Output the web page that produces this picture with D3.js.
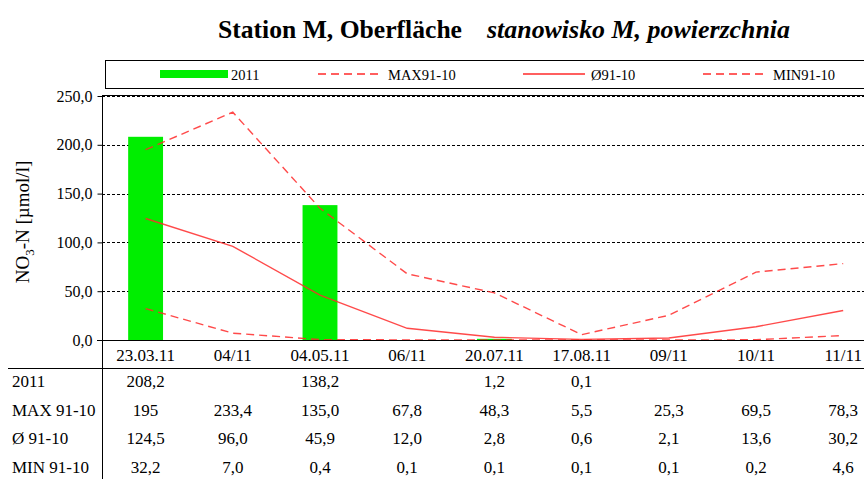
<!DOCTYPE html>
<html>
<head>
<meta charset="utf-8">
<script src="https://cdn.jsdelivr.net/npm/d3@7"></script>
<style>
  body { margin: 0; background: #fff; }
  svg text { font-family: 'Liberation Serif', 'Times New Roman', serif; fill: #000; }
</style>
</head>
<body>
<svg id="chart" width="864" height="479"></svg>
<script>
const categories = ['23.03.11', '04/11', '04.05.11', '06/11', '20.07.11', '17.08.11', '09/11', '10/11', '11/11'];
const row2011 = ['208,2', '', '138,2', '', '1,2', '0,1', '', '', ''];
const rowMax = ['195', '233,4', '135,0', '67,8', '48,3', '5,5', '25,3', '69,5', '78,3'];
const rowAvg = ['124,5', '96,0', '45,9', '12,0', '2,8', '0,6', '2,1', '13,6', '30,2'];
const rowMin = ['32,2', '7,0', '0,4', '0,1', '0,1', '0,1', '0,1', '0,2', '4,6'];
const yTicks = [0, 50, 100, 150, 200, 250];

const num = (s) => s === '' ? null : +s.replace(',', '.');

const svg = d3.select('#chart');
const plotLeft = 102, plotTop = 95, plotBottom = 340;
const step = 87.2;

const x = d3.scaleBand()
  .domain(categories)
  .range([plotLeft, plotLeft + step * categories.length])
  .paddingInner(0.6)
  .paddingOuter(0.3);

const y = d3.scaleLinear().domain([0, 250]).range([plotBottom, plotTop + 1]);
const cx = (d) => x(d) + x.bandwidth() / 2;

// title
const title = svg.append('text')
  .attr('x', 218)
  .attr('y', 38)
  .style('font-size', '25px')
  .style('font-weight', 'bold');
title.append('tspan').attr('textLength', 244).attr('lengthAdjust', 'spacingAndGlyphs').text('Station M, Oberfläche');
title.append('tspan').attr('x', 487).style('font-style', 'italic')
  .attr('textLength', 303).attr('lengthAdjust', 'spacingAndGlyphs').text('stanowisko M, powierzchnia');

// legend box
const legend = svg.append('g');
legend.append('rect')
  .attr('x', 105.5).attr('y', 60.5)
  .attr('width', 800).attr('height', 28)
  .attr('fill', 'none').attr('stroke', '#000');

legend.append('rect')
  .attr('x', 160).attr('y', 70).attr('width', 68).attr('height', 8)
  .attr('fill', '#00ee00');
legend.append('text').attr('x', 231).attr('y', 80).style('font-size', '14.5px').text('2011');

const legendLines = [
  { x: 318, w: 64, dash: '8,5', label: 'MAX91-10' },
  { x: 523, w: 62, dash: null, label: 'Ø91-10' },
  { x: 703, w: 64, dash: '8,5', label: 'MIN91-10' }
];
legendLines.forEach((l) => {
  legend.append('line')
    .attr('x1', l.x).attr('x2', l.x + l.w)
    .attr('y1', 74).attr('y2', 74)
    .attr('stroke', '#ff2a2a').attr('stroke-width', 1.4)
    .attr('stroke-dasharray', l.dash);
  legend.append('text').attr('x', l.x + l.w + 6).attr('y', 80).style('font-size', '14.5px').text(l.label);
});

// gridlines
svg.append('g')
  .selectAll('line')
  .data(yTicks.filter((t) => t > 0))
  .enter()
  .append('line')
  .attr('x1', plotLeft).attr('x2', 864)
  .attr('y1', (d) => Math.round(y(d)) + 0.5)
  .attr('y2', (d) => Math.round(y(d)) + 0.5)
  .attr('stroke', '#000')
  .attr('stroke-dasharray', '3,2');

// plot border top
svg.append('line')
  .attr('x1', plotLeft).attr('x2', 864)
  .attr('y1', plotTop + 0.5).attr('y2', plotTop + 0.5)
  .attr('stroke', '#000');

// y axis
const yAxis = svg.append('g')
  .attr('transform', 'translate(' + (plotLeft + 0.5) + ',0)')
  .call(d3.axisLeft(y).tickValues(yTicks).tickSize(5).tickPadding(5)
    .tickFormat((d) => d3.format('.1f')(d).replace('.', ',')));
yAxis.attr('font-family', null);
yAxis.select('.domain').attr('d', 'M0,' + plotTop + 'V' + plotBottom);
yAxis.selectAll('text').style('font-size', '16px');

// bars
svg.append('g')
  .selectAll('rect')
  .data(categories.map((c, i) => ({ c: c, v: num(row2011[i]) })).filter((d) => d.v !== null))
  .enter()
  .append('rect')
  .attr('x', (d) => x(d.c))
  .attr('y', (d) => y(d.v))
  .attr('width', x.bandwidth())
  .attr('height', (d) => plotBottom - y(d.v))
  .attr('fill', '#00ee00');

// lines
const line = d3.line().x((d) => cx(d.c)).y((d) => y(d.v));
const series = [
  { row: rowMax, dash: '8,5' },
  { row: rowAvg, dash: null },
  { row: rowMin, dash: '8,5' }
];
series.forEach((s) => {
  svg.append('path')
    .datum(categories.map((c, i) => ({ c: c, v: num(s.row[i]) })))
    .attr('d', line)
    .attr('fill', 'none')
    .attr('stroke', '#ff2a2a')
    .attr('stroke-opacity', 0.85)
    .attr('stroke-width', 1.4)
    .attr('stroke-dasharray', s.dash);
});

// zero line
svg.append('line')
  .attr('x1', plotLeft - 5).attr('x2', 864)
  .attr('y1', plotBottom + 0.5).attr('y2', plotBottom + 0.5)
  .attr('stroke', '#000');

// category labels
svg.append('g')
  .selectAll('text')
  .data(categories)
  .enter()
  .append('text')
  .attr('x', cx)
  .attr('y', 361)
  .attr('text-anchor', 'middle')
  .style('font-size', '17px')
  .text((d) => d);

// data table
svg.append('line')
  .attr('x1', 8).attr('x2', 864)
  .attr('y1', 368.5).attr('y2', 368.5)
  .attr('stroke', '#000');
svg.append('line')
  .attr('x1', plotLeft + 0.5).attr('x2', plotLeft + 0.5)
  .attr('y1', plotBottom).attr('y2', 479)
  .attr('stroke', '#000');

const tableRows = [
  { label: '2011', row: row2011 },
  { label: 'MAX 91-10', row: rowMax },
  { label: 'Ø 91-10', row: rowAvg },
  { label: 'MIN 91-10', row: rowMin }
];
tableRows.forEach((r, i) => {
  const ty = 387 + i * 28.7;
  svg.append('text').attr('x', 12).attr('y', ty).style('font-size', '17px').text(r.label);
  svg.append('g')
    .selectAll('text')
    .data(categories)
    .enter()
    .append('text')
    .attr('x', cx)
    .attr('y', ty)
    .attr('text-anchor', 'middle')
    .style('font-size', '17px')
    .text((d, j) => r.row[j]);
});

// y axis title
const yt = svg.append('text')
  .attr('transform', 'translate(29,222) rotate(-90)')
  .attr('text-anchor', 'middle')
  .style('font-size', '19px');
yt.append('tspan').text('NO');
yt.append('tspan').attr('dy', 5).style('font-size', '13px').text('3');
yt.append('tspan').attr('dy', -5).text('-N [µmol/l]');
</script>
</body>
</html>
